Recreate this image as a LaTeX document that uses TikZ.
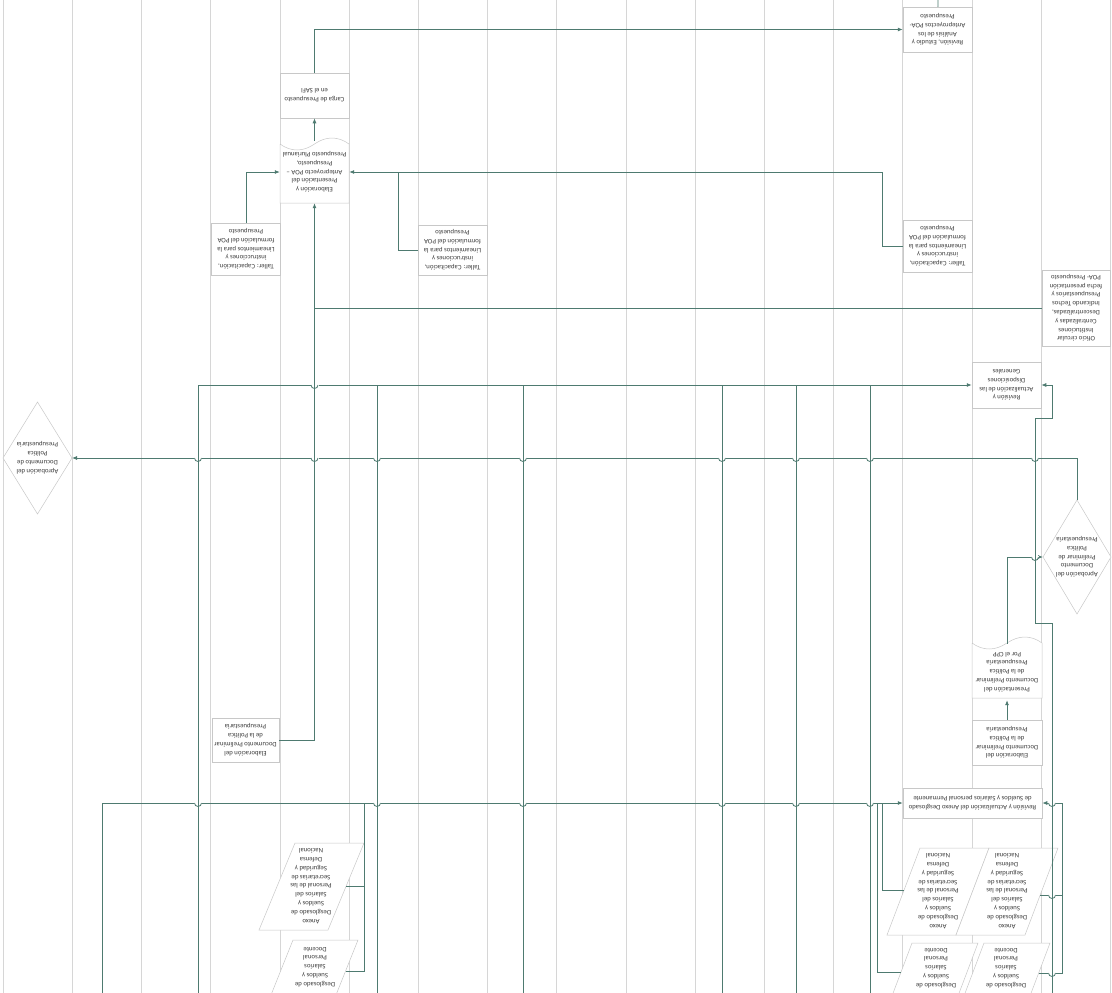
\documentclass[tikz,border=0pt]{standalone}
\usepackage{fontspec}
\setmainfont{Carlito}
\usetikzlibrary{arrows.meta}
\definecolor{connc}{RGB}{78,122,112}
\definecolor{lanec}{RGB}{214,214,214}
\definecolor{boxc}{RGB}{200,200,200}
\definecolor{txtc}{RGB}{60,60,60}
\tikzset{
  connline/.style={draw=connc, line width=0.8pt},
  arr/.style={-{Latex[length=5pt,width=4pt]}},
  lane/.style={draw=lanec, line width=0.5pt},
  boxline/.style={draw=boxc, fill=white, line width=0.5pt},
  txtn/.style={rotate=180, align=center, text=txtc, font=\fontsize{6.8}{8.8}\selectfont, inner sep=1pt},
  boxn/.style={txtn, draw=boxc, fill=white, line width=0.5pt, minimum width=69pt}
}
\newcommand\myjump[2]{%
  \fill[white] ({#1-4},{-#2-1}) rectangle ({#1+4},{-#2+1});
  \draw[connline] (#1,{-#2+4}) -- (#1,{-#2-5});
  \draw[connline] ({#1-3.5},-#2) arc[start angle=180,end angle=360,radius=3.5pt];
}
\begin{document}
\begin{tikzpicture}[x=1pt,y=1pt]
\useasboundingbox (0,0) rectangle (1112,-993);
\clip (0,0) rectangle (1112,-993);
\fill[white] (0,0) rectangle (1112,-993);
\foreach \k in {0,...,16} \draw[lane] ({3+69.2*\k},0) -- ({3+69.2*\k},-993);

% boxes
\node[boxn, minimum height=45pt] (rev1) at (937.5,-29.5) {Revisión, Estudio y\\Análisis de los\\Anteproyectos POA-\\Presupuesto};
\node[boxn, minimum height=45pt] (carga) at (314.5,-95.5) {Carga de Presupuesto\\en el SAFI};
\draw[boxline] (280,-144) -- (280,-203) -- (349,-203) -- (349,-144) .. controls (338,-136) and (326,-136) .. (314.5,-144) .. controls (303,-152) and (291,-152) .. (280,-144);
\node[txtn, minimum width=69pt, minimum height=62pt] (elab1) at (314.5,-172) {Elaboración y\\Presentación del\\Anteproyecto POA –\\Presupuesto,\\Presupuesto Plurianual};
\node[boxn, minimum height=52pt] (taller1) at (246,-249) {Taller: Capacitación,\\instrucciones y\\Lineamientos para la\\formulación del POA\\Presupuesto};
\node[boxn, minimum height=50pt] (taller2) at (452.5,-250) {Taller: Capacitación,\\instrucciones y\\Lineamientos para la\\formulación del POA\\Presupuesto};
\node[boxn, minimum height=52pt] (taller3) at (937.5,-246) {Taller: Capacitación,\\instrucciones y\\Lineamientos para la\\formulación del POA\\Presupuesto};
\node[boxn, minimum width=68pt, minimum height=76pt] (oficio) at (1076,-308) {Oficio circular\\Instituciones\\Centralizadas y\\Descentralizadas,\\Indicando Techos\\Presupuestarios y\\fecha presentación\\POA- Presupuesto};
\node[boxn, minimum height=46pt] (revdisp) at (1006.5,-385) {Revisión y\\Actualización de las\\Disposiciones\\Generales};
\node[boxn, minimum width=67pt, minimum height=44pt] (elabprel1) at (245.5,-740) {Elaboración del\\Documento Preliminar\\de la Política\\Presupuestaria};
\node[boxn, minimum width=70pt, minimum height=45pt] (elabprel2) at (1007,-742.5) {Elaboración del\\Documento Preliminar\\de la Política\\Presupuestaria};
\draw[boxline] (972,-643) -- (972,-698) -- (1042,-698) -- (1042,-643) .. controls (1031,-635) and (1019,-635) .. (1007,-643) .. controls (995,-651) and (983,-651) .. (972,-643);
\node[txtn, minimum width=70pt, minimum height=56pt] (presdoc) at (1007,-672) {Presentación del\\Documento Preliminar\\de la Política\\Presupuestaria\\Por el CPP};
\node[boxn, minimum width=139pt, minimum height=30pt] (anexorev) at (972.5,-803) {Revisión y Actualización del Anexo Desglosado\\de Sueldos y Salarios personal Permanente};

% diamonds
\draw[boxline] (37.5,-402) -- (72,-458) -- (37.5,-514) -- (3,-458) -- cycle;
\node[txtn] (ldia) at (37.5,-458) {Aprobación del\\Documento de\\Política\\Presupuestaria};
\draw[boxline] (1077,-500) -- (1111,-557) -- (1077,-614) -- (1043,-557) -- cycle;
\node[txtn] (rdia) at (1077,-557) {Aprobación del\\Documento\\Preliminar de\\Política\\Presupuestaria};

% parallelograms
\draw[boxline] (295,-843) -- (364,-843) -- (328,-930) -- (259,-930) -- cycle;
\node[txtn] (anexoL) at (311,-886) {Anexo\\Desglosado de\\Sueldos y\\Salarios del\\Personal de las\\Secretarías de\\Seguridad y\\Defensa\\Nacional};
\draw[boxline] (293,-940) -- (358,-940) -- (322,-1030) -- (257,-1030) -- cycle;
\node[txtn] (docL) at (315,-967) {Desglosado de\\Sueldos y\\Salarios\\Personal\\Docente};
\draw[boxline] (920,-848) -- (989,-848) -- (956,-935) -- (887,-935) -- cycle;
\node[txtn] (anexoR1) at (938,-891) {Anexo\\Desglosado de\\Sueldos y\\Salarios del\\Personal de las\\Secretarías de\\Seguridad y\\Defensa\\Nacional};
\draw[boxline] (989,-848) -- (1058,-848) -- (1025,-935) -- (956,-935) -- cycle;
\node[txtn] (anexoR2) at (1007,-891) {Anexo\\Desglosado de\\Sueldos y\\Salarios del\\Personal de las\\Secretarías de\\Seguridad y\\Defensa\\Nacional};
\draw[boxline] (912,-943) -- (978,-943) -- (944,-1033) -- (878,-1033) -- cycle;
\node[txtn] (docR1) at (936,-968) {Desglosado de\\Sueldos y\\Salarios\\Personal\\Docente};
\draw[boxline] (984,-943) -- (1050,-943) -- (1016,-1033) -- (950,-1033) -- cycle;
\node[txtn] (docR2) at (1006,-968) {Desglosado de\\Sueldos y\\Salarios\\Personal\\Docente};

% connectors
\coordinate (topin) at (938,0);
\draw[connline] (topin) -- (rev1);
\draw[connline,arr] (carga) |- (rev1);
\draw[connline,arr] (elab1) -- (carga);
\draw[connline,arr] (taller1) |- (elab1);
\coordinate (t2a) at (398,-250); \coordinate (t2b) at (398,-172);
\draw[connline] (taller2) -- (t2a) -- (t2b);
\coordinate (t3a) at (882,-246); \coordinate (t3b) at (882,-172);
\draw[connline,arr] (taller3) -- (t3a) -- (t3b) -- (elab1);
\coordinate (ofj) at (314.5,-308);
\draw[connline] (oficio) -- (ofj);
\draw[connline,arr] (elabprel1) -| (elab1);

\coordinate (ldiaR) at (72,-458); \coordinate (rdiaT) at (1077,-500); \coordinate (rdiaL) at (1043,-557);
\draw[connline,arr] (rdiaT) |- (ldiaR);
\draw[connline,arr] (presdoc) |- (rdiaL);
\draw[connline,arr] (elabprel2) -- (presdoc);

\foreach \xx in {198,377,523,722,796,870} \draw[connline] (\xx,-993) -- (\xx,-385);
\coordinate (up0) at (198,-385);
\draw[connline,arr] (up0) -- (revdisp);

\coordinate (r1) at (1052,-993); \coordinate (r2) at (1052,-623); \coordinate (r3) at (1035,-623);
\coordinate (r4) at (1035,-418); \coordinate (r5) at (1052,-418); \coordinate (r6) at (1052,-385);
\draw[connline,arr] (r1) -- (r2) -- (r3) -- (r4) -- (r5) -- (r6) -- (revdisp);

\coordinate (a0) at (102,-993);
\draw[connline,arr] (a0) |- (anexorev);
\coordinate (lg1) at (346,-886); \coordinate (lg2) at (364,-886); \coordinate (lg3) at (364,-803);
\coordinate (lg4) at (346,-971); \coordinate (lg5) at (364,-971);
\draw[connline] (lg1) -- (lg2) -- (lg3);
\draw[connline] (lg4) -- (lg5) -- (lg2);
\coordinate (rg1) at (904,-890); \coordinate (rg2) at (882,-890); \coordinate (rg3) at (882,-803);
\coordinate (rg4) at (901,-972); \coordinate (rg5) at (877,-972); \coordinate (rg6) at (877,-803);
\draw[connline] (rg1) -- (rg2) -- (rg3);
\draw[connline] (rg4) -- (rg5) -- (rg6);
\coordinate (rh1) at (1040,-895); \coordinate (rh2) at (1062,-895);
\coordinate (rh3) at (1039,-973); \coordinate (rh4) at (1062,-973); \coordinate (rh5) at (1062,-803);
\draw[connline,arr] (rh3) -- (rh4) -- (rh5) -- (anexorev);
\draw[connline] (rh1) -- (rh2);

% line jumps
\myjump{314.5}{385}
\foreach \xx in {198,314.5,377,523,722,796,870,1035} {\myjump{\xx}{458}}
\myjump{1035}{557}
\foreach \xx in {198,377,523,722,796,870,1052} {\myjump{\xx}{803}}
\myjump{1052}{895}
\myjump{1052}{973}
\end{tikzpicture}
\end{document}
